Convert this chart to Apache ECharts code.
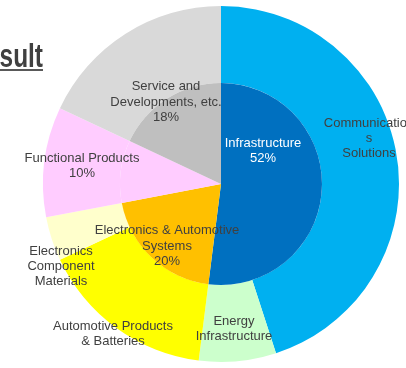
<!DOCTYPE html>
<html>
<head>
<meta charset="utf-8">
<script src="https://cdn.jsdelivr.net/npm/echarts@6/dist/echarts.min.js"></script>
<style>
  html, body { margin: 0; padding: 0; background: #fff; }
  #chart { width: 406px; height: 368px; }
</style>
</head>
<body>
<div id="chart"></div>
<script>
// Inner ring: business segments (share of total, %)
const innerNames = ['Infrastructure', 'Electronics & Automotive Systems', 'Functional Products', 'Service and Developments, etc.'];
const innerValues = [52, 20, 10, 18];
const innerLabelText = ['Infrastructure', 'Electronics & Automotive\nSystems', '', 'Service and\nDevelopments, etc.'];
const innerShowPct = [true, true, false, true];
const innerColors = ['#0070C0', '#FFC000', '#FFCCFF', '#BFBFBF'];

// Outer ring: sub-segments (share of total, %)
const outerNames = ['Communications Solutions', 'Energy Infrastructure', 'Automotive Products & Batteries', 'Electronics Component Materials', 'Functional Products', 'Service and Developments, etc.'];
const outerValues = [45, 7, 16, 4, 10, 18];
const outerLabelText = ['Communication\ns\nSolutions', 'Energy\nInfrastructure', 'Automotive Products\n& Batteries', 'Electronics\nComponent\nMaterials', 'Functional Products', ''];
const outerShowPct = [false, false, false, false, true, false];
const outerColors = ['#00B0F0', '#CCFFCC', '#FFFF00', '#FFFFCC', '#FFCCFF', '#D9D9D9'];

// Label anchor points (pixels) for each ring
const outerLabelPos = [[369, 138], [234, 329], [113, 334], [61, 266], [82, 166], [0, 0]];
const innerLabelPos = [[263, 151], [167, 246], [0, 0], [166, 102]];

const TEXT = '#404040';
const FONT = "'Liberation Sans', Arial, sans-serif";

function labelFormatter(texts, showPct) {
  return function (p) {
    const t = texts[p.dataIndex];
    if (!t) return '';
    return showPct[p.dataIndex] ? t + '\n' + p.value + '%' : t;
  };
}

function layoutFrom(positions) {
  return function (p) {
    const q = positions[p.dataIndex];
    return { x: q[0], y: q[1], align: 'center', verticalAlign: 'middle' };
  };
}

const chart = echarts.init(document.getElementById('chart'));
chart.setOption({
  animation: false,
  graphic: [
    {
      type: 'text',
      x: 43,
      y: 58,
      scaleX: 0.74,
      style: {
        text: 'Result',
        fill: TEXT,
        font: "bold 33px 'Liberation Sans', Arial, sans-serif",
        textAlign: 'right',
        textVerticalAlign: 'middle'
      }
    },
    {
      type: 'line',
      shape: { x1: 0, y1: 70, x2: 43, y2: 70 },
      style: { stroke: '#595959', lineWidth: 2 }
    }
  ],
  series: [
    {
      type: 'pie',
      center: [221, 184],
      radius: [101, 178],
      startAngle: 90,
      clockwise: true,
      avoidLabelOverlap: false,
      silent: true,
      labelLine: { show: false },
      label: {
        show: true,
        position: 'inside',
        color: TEXT,
        fontSize: 13,
        lineHeight: 15,
        fontFamily: FONT,
        formatter: labelFormatter(outerLabelText, outerShowPct)
      },
      labelLayout: layoutFrom(outerLabelPos),
      data: outerNames.map((n, i) => ({
        name: n,
        value: outerValues[i],
        itemStyle: { color: outerColors[i] }
      }))
    },
    {
      type: 'pie',
      center: [221, 184],
      radius: [0, 101],
      startAngle: 90,
      clockwise: true,
      avoidLabelOverlap: false,
      silent: true,
      labelLine: { show: false },
      label: {
        show: true,
        position: 'inside',
        color: TEXT,
        fontSize: 13,
        lineHeight: 15.5,
        fontFamily: FONT,
        formatter: labelFormatter(innerLabelText, innerShowPct)
      },
      labelLayout: layoutFrom(innerLabelPos),
      data: innerNames.map((n, i) => ({
        name: n,
        value: innerValues[i],
        itemStyle: { color: innerColors[i] },
        label: i === 0 ? { color: '#FFFFFF' } : undefined
      }))
    }
  ]
});
</script>
</body>
</html>
